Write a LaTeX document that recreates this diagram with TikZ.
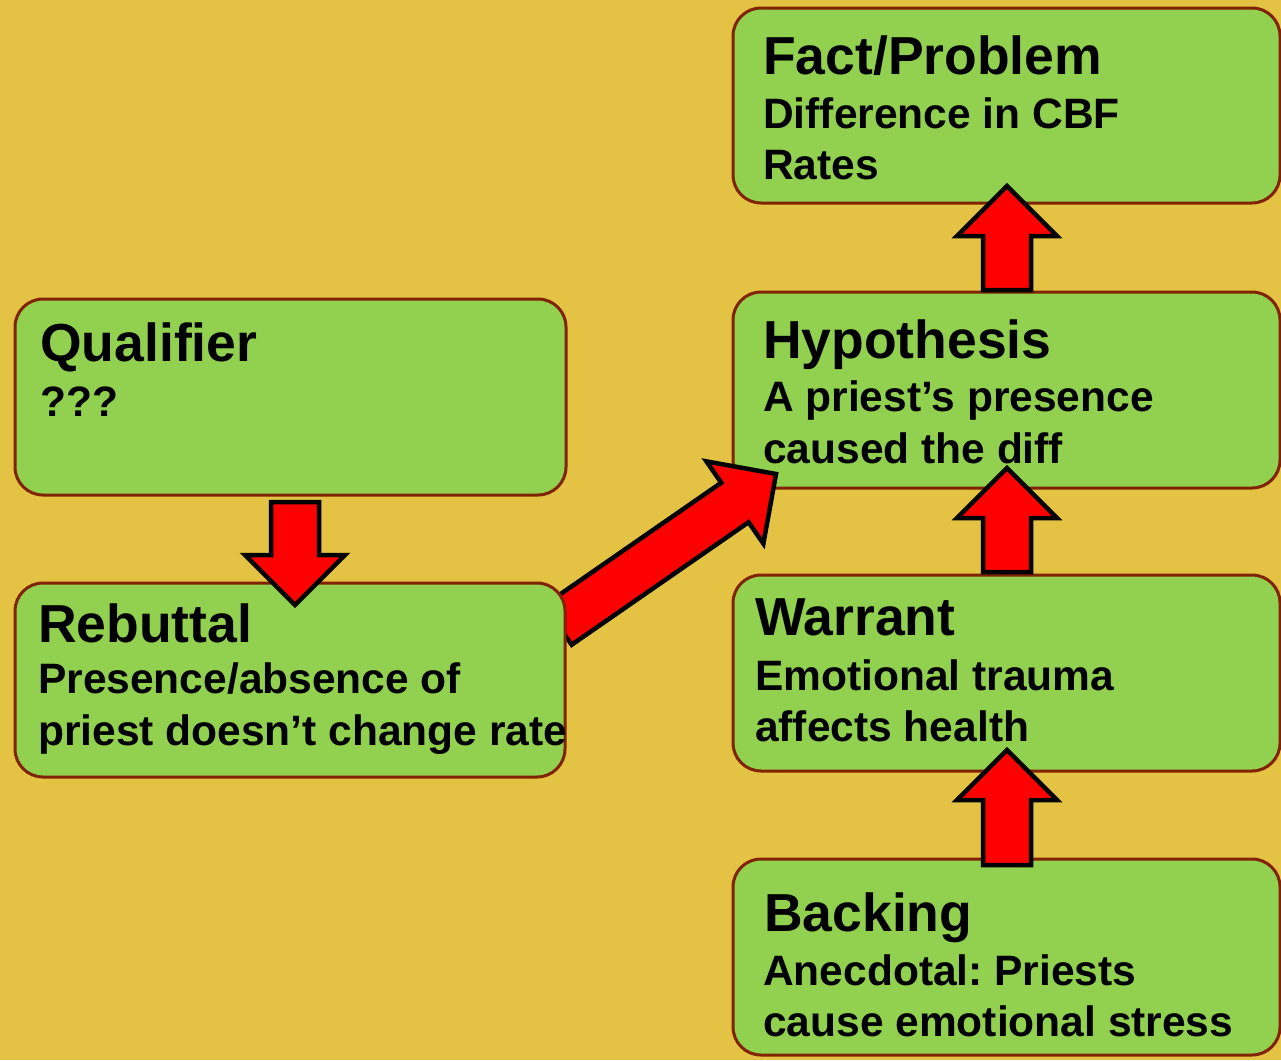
\documentclass[tikz,border=0pt]{standalone}
\usepackage{fontspec}
\setmainfont{Liberation Sans}
\frenchspacing
\usetikzlibrary{calc}
\definecolor{bgcol}{HTML}{E4C244}
\definecolor{boxfill}{HTML}{92D050}
\definecolor{boxline}{HTML}{7F2300}
\definecolor{arrowred}{HTML}{FF0000}
\tikzset{
  card/.style={draw=boxline, fill=boxfill, line width=3pt, rounded corners=28pt},
  ttl/.style={anchor=base west, inner sep=0pt, font=\bfseries\fontsize{53.5}{60}\selectfont},
  txt/.style={anchor=base west, inner sep=0pt, font=\bfseries\fontsize{42.5}{50}\selectfont},
  blockarrow/.style={draw=black, fill=arrowred, line width=4.5pt, line join=miter}
}
% block arrow from tail centre #1 to tip #2: shaft 48, head 100 wide, 50 long
\newcommand{\fatarrow}[2]{%
  \coordinate (hb) at ($(#2)!50pt!(#1)$);
  \draw[blockarrow] ($(#1)!24pt!90:(#2)$) -- ($(hb)!24pt!90:(#2)$)
    -- ($(hb)!50pt!90:(#2)$) -- (#2) -- ($(hb)!50pt!-90:(#2)$)
    -- ($(hb)!24pt!-90:(#2)$) -- ($(#1)!24pt!-90:(#2)$) -- cycle;}
\begin{document}
\begin{tikzpicture}[x=1pt, y=-1pt]
  \fill[bgcol] (0,0) rectangle (1281,1060);
  \useasboundingbox (0,0) rectangle (1281,1060);

  % arrow ends
  \coordinate (a1-tail) at (1007,290);
  \coordinate (a1-tip)  at (1007,186);
  \coordinate (a2-tail) at (1007,572);
  \coordinate (a2-tip)  at (1007,468);
  \coordinate (a3-tail) at (1007,865);
  \coordinate (a3-tip)  at (1007,750);
  \coordinate (a4-tail) at (295,502);
  \coordinate (a4-tip)  at (295,605);
  \coordinate (a5-tail) at (558,625);
  \coordinate (a5-tip)  at (776,474);

  % boxes
  \draw[card] (733,8) rectangle (1280,203);
  \draw[card] (733,292) rectangle (1280,488);
  \draw[card] (733,575) rectangle (1280,771);
  \draw[card] (733,859) rectangle (1280,1055);
  \draw[card] (15,299) rectangle (566,495);
  % the rebuttal arrow starts underneath its box
  \fatarrow{a5-tail}{a5-tip}
  \draw[card] (15,583) rectangle (565,777);

  % Fact/Problem
  \node[ttl] (fact-t) at (763,74) {Fact/Problem};
  \node[txt] (fact-1) at (763,128) {Difference in CBF};
  \node[txt] (fact-2) at (763,179) {Rates};
  % Hypothesis
  \node[ttl] (hyp-t) at (763,358) {Hypothesis};
  \node[txt] (hyp-1) at (763,411) {A priest’s presence};
  \node[txt] (hyp-2) at (763,463) {caused the diff};
  % Warrant
  \node[ttl] (war-t) at (755,635) {Warrant};
  \node[txt] (war-1) at (755,690) {Emotional trauma};
  \node[txt] (war-2) at (755,741) {affects health};
  % Backing
  \node[ttl] (back-t) at (764,931) {Backing};
  \node[txt] (back-1) at (763,985) {Anecdotal: Priests};
  \node[txt] (back-2) at (763,1036) {cause emotional stress};
  % Qualifier
  \node[ttl] (qual-t) at (40,361) {Qualifier};
  \node[txt] (qual-1) at (40,416) {???};
  % Rebuttal
  \node[ttl] (reb-t) at (38,642) {Rebuttal};
  \node[txt] (reb-1) at (38,693) {Presence/absence of};
  \node[txt] (reb-2) at (38,745) {priest doesn’t change rate};

  \fatarrow{a1-tail}{a1-tip}
  \fatarrow{a2-tail}{a2-tip}
  \fatarrow{a3-tail}{a3-tip}
  \fatarrow{a4-tail}{a4-tip}
\end{tikzpicture}
\end{document}
